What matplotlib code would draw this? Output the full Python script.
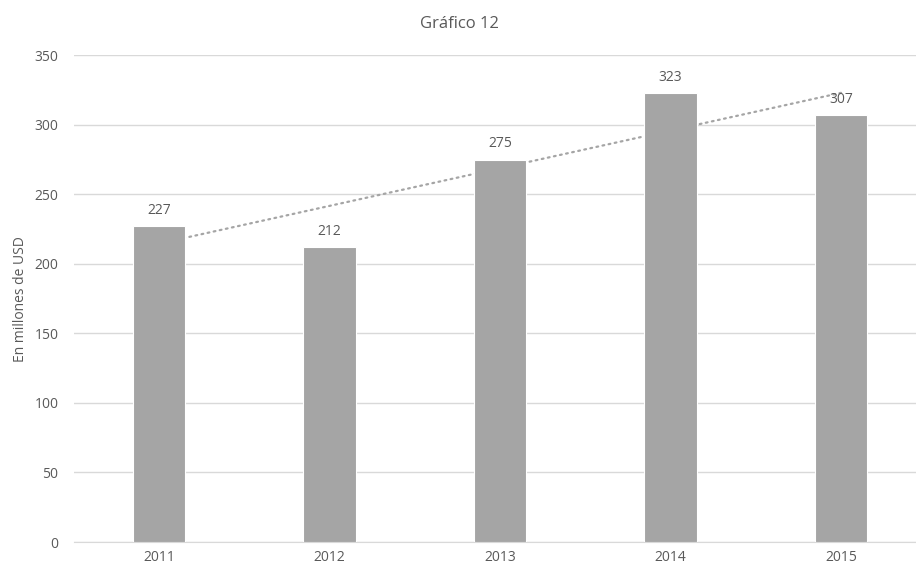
import numpy as np
import matplotlib.pyplot as plt

plt.rcParams['font.family'] = ['Open Sans', 'DejaVu Sans']

anios = ["2011", "2012", "2013", "2014", "2015"]
valores = [227, 212, 275, 323, 307]
yticks = [0, 50, 100, 150, 200, 250, 300, 350]

gris_barra = "#A5A5A5"
gris_texto = "#595959"

fig = plt.figure(figsize=(9.16, 5.70), dpi=100)
# el area de trazado sobresale un poco por la derecha
ax = fig.add_axes([0.0805, 0.0491, 0.9307, 0.8539])

x = np.arange(len(anios))
ax.bar(x, valores, width=0.31, color=gris_barra, edgecolor="white",
       linewidth=0.8, zorder=3)

# linea de tendencia lineal (queda detras de las barras)
m, b = np.polyfit(x + 1, valores, 1)
ax.plot(x, m * (x + 1) + b, color=gris_barra, linewidth=1.6,
        linestyle=(0, (0.8, 2.0)), dash_capstyle="round", zorder=2)

for xi, v in zip(x, valores):
    ax.annotate(str(v), (xi, v), xytext=(0, 6), textcoords="offset points",
                ha="center", va="bottom", fontsize=10, color=gris_texto,
                zorder=4)

ax.set_xlim(-0.5, len(anios) - 0.5)
ax.set_ylim(0, 350)
ax.set_yticks(yticks)
ax.set_xticks(x)
ax.set_xticklabels(anios)
ax.yaxis.grid(True, color="#D9D9D9", linewidth=1)
ax.set_axisbelow(True)
for s in ["top", "right", "left"]:
    ax.spines[s].set_visible(False)
ax.spines["bottom"].set_color("#D9D9D9")
ax.tick_params(axis="both", length=0, labelsize=10, colors=gris_texto)
ax.tick_params(axis="x", pad=6)
ax.tick_params(axis="y", pad=11)

ax.set_ylabel("En millones de USD", fontsize=10, color=gris_texto, labelpad=5)
fig.text(0.502, 0.958, "Gráfico 12", ha="center", va="center",
         fontsize=12, color=gris_texto)

fig.savefig("out.png", dpi=100)
